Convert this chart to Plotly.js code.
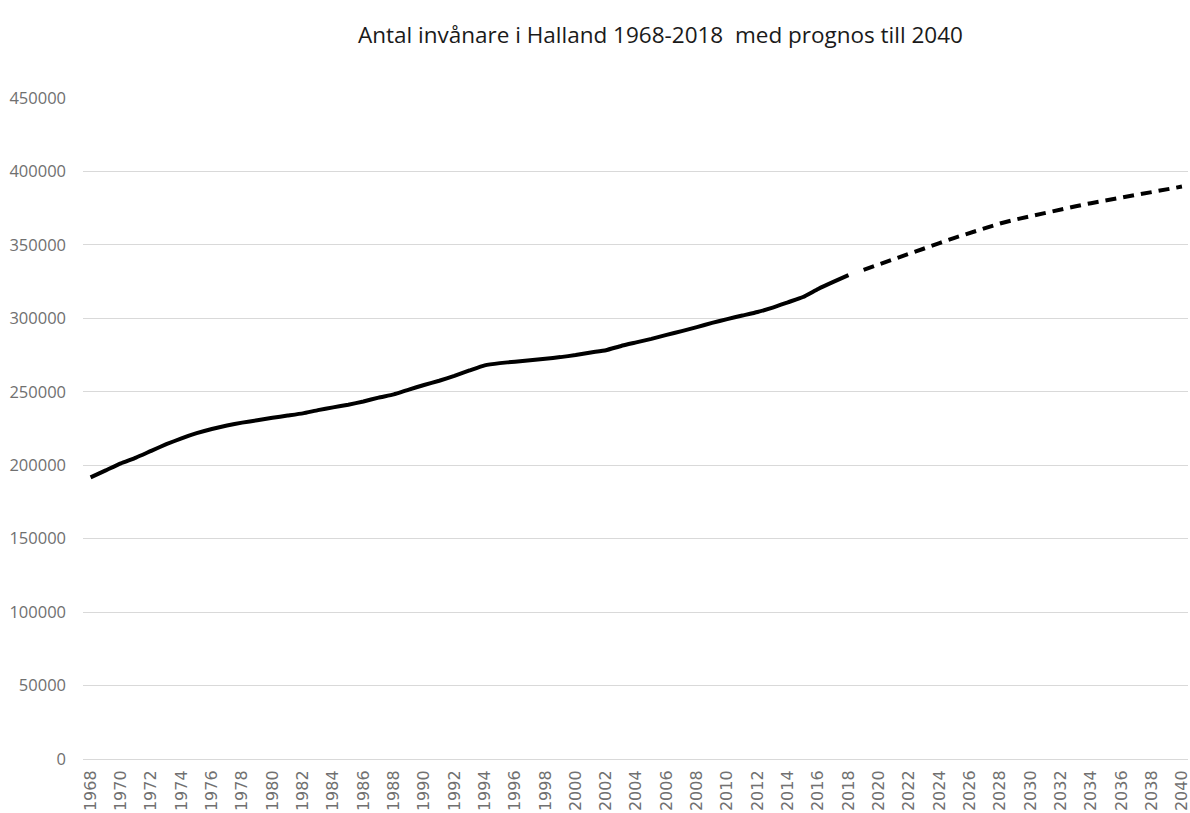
<!DOCTYPE html>
<html>
<head>
<meta charset="utf-8">
<script src="https://cdn.plot.ly/plotly-3.0.1.min.js"></script>
<style>html,body{margin:0;padding:0;background:#fff;}#chart{width:1190px;height:813px;}</style>
</head>
<body>
<div id="chart"></div>
<script>
const historyYears = [1968,1969,1970,1971,1972,1973,1974,1975,1976,1977,1978,1979,1980,1981,1982,1983,1984,1985,1986,1987,1988,1989,1990,1991,1992,1993,1994,1995,1996,1997,1998,1999,2000,2001,2002,2003,2004,2005,2006,2007,2008,2009,2010,2011,2012,2013,2014,2015,2016,2017,2018];
const historyValues = [191700,196500,201300,205200,209800,214300,218300,221800,224700,227100,229000,230600,232300,233800,235300,237500,239400,241200,243400,246000,248200,251500,254600,257500,260800,264500,268000,269500,270500,271400,272500,273600,275000,276800,278300,281200,283600,286000,288700,291300,294000,296900,299500,301900,304300,307300,310900,314500,320000,324800,329400];
const forecastYears = [2019,2020,2021,2022,2023,2024,2025,2026,2027,2028,2029,2030,2031,2032,2033,2034,2035,2036,2037,2038,2039,2040];
const forecastValues = [333000,336500,340300,343800,347600,351200,354800,358300,361600,364600,367200,369600,371900,374100,376300,378400,380300,382100,383900,385700,387600,389700];
const yTicks = [0,50000,100000,150000,200000,250000,300000,350000,400000,450000];
const titleText = 'Antal invånare i Halland 1968-2018  med prognos till 2040';

const traces = [
  {x: historyYears, y: historyValues, type: 'scatter', mode: 'lines', name: 'Antal invånare',
   line: {color: '#000000', width: 4, shape: 'spline', smoothing: 0.4}},
  {x: forecastYears, y: forecastValues, type: 'scatter', mode: 'lines', name: 'Prognos',
   line: {color: '#000000', width: 4, dash: '11px,7px'}}
];

const layout = {
  width: 1190, height: 813,
  paper_bgcolor: '#ffffff', plot_bgcolor: '#ffffff',
  margin: {l: 83, r: 2, t: 98, b: 54},
  showlegend: false,
  title: {text: titleText, x: 0.555, xanchor: 'center', y: 0.957, yanchor: 'middle',
          font: {family: 'Open Sans, sans-serif', size: 22.5, color: '#1a1a1a'}},
  xaxis: {
    type: 'linear', range: [1967.5, 2040.4], tick0: 1968, dtick: 2,
    tickangle: -90, showgrid: false, zeroline: false,
    showline: true, linecolor: '#d9d9d9', linewidth: 1,
    ticks: '', ticklabelstandoff: 4, ticklabeloverflow: 'allow',
    tickfont: {family: 'DejaVu Sans, sans-serif', size: 16, color: '#707070'},
    automargin: false, fixedrange: true
  },
  yaxis: {
    range: [0, 450000], tickvals: yTicks, ticktext: yTicks.map(String),
    showgrid: true, gridcolor: '#d9d9d9', gridwidth: 1, zeroline: false,
    showline: false, ticks: '', ticklabelstandoff: 16,
    tickfont: {family: 'Open Sans, sans-serif', size: 16.5, color: '#707070'},
    automargin: false, fixedrange: true
  }
};

Plotly.newPlot('chart', traces, layout, {displayModeBar: false, staticPlot: true});
</script>
</body>
</html>
